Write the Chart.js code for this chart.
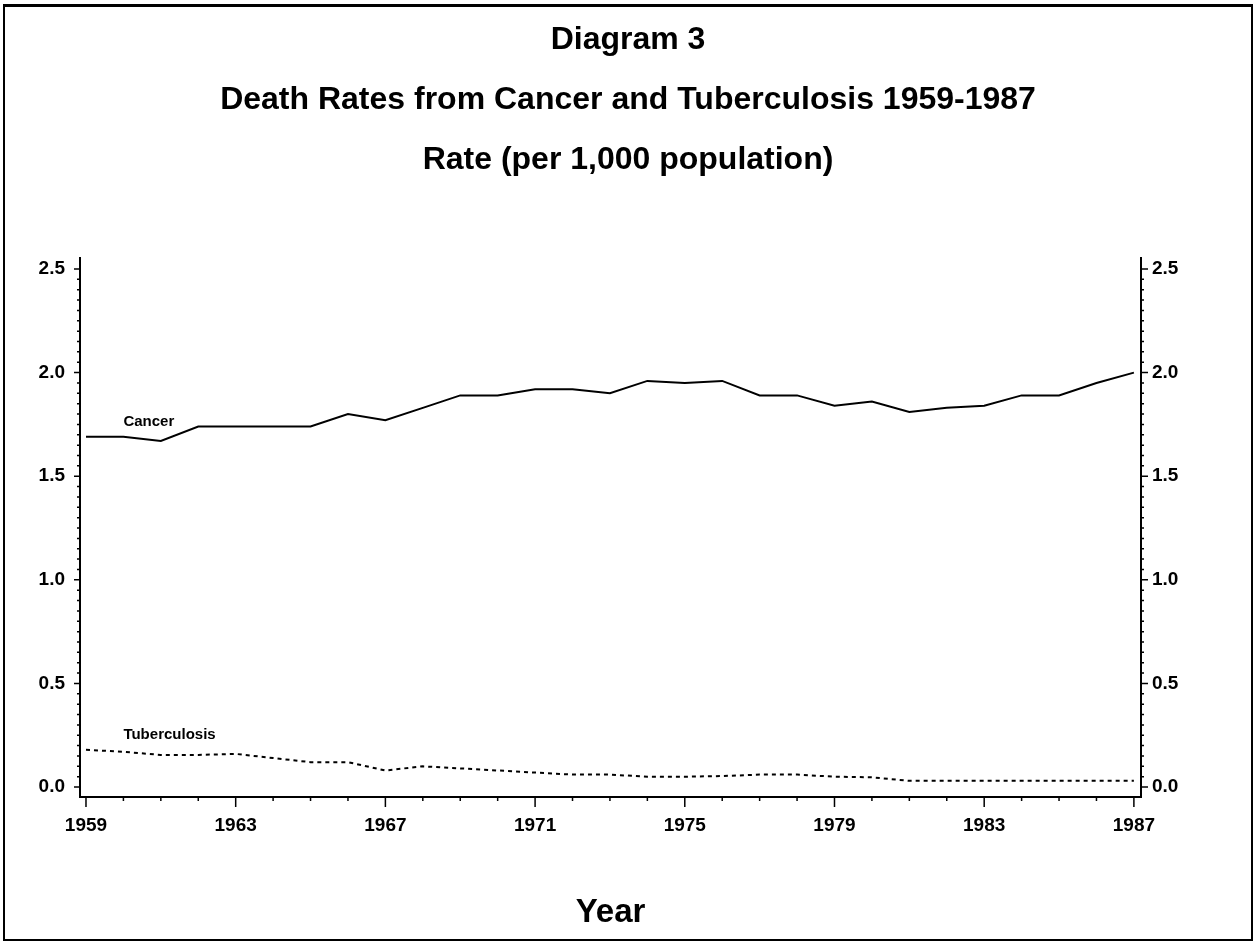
<!DOCTYPE html>
<html>
<head>
<meta charset="utf-8">
<script src="https://cdn.jsdelivr.net/npm/chart.js@4.4.0/dist/chart.umd.min.js"></script>
<style>
  html, body { margin: 0; padding: 0; background: #fff; }
  #wrap { position: relative; width: 1256px; height: 945px; }
  #frame { position: absolute; left: 3px; top: 4px; width: 1250px; height: 937px;
           box-sizing: border-box; border: 2px solid #000; border-top-width: 3px; pointer-events: none; }
</style>
</head>
<body>
<div id="wrap">
  <canvas id="myChart" width="1256" height="945"></canvas>
  <div id="frame"></div>
</div>
<script>
const years = [1959, 1960, 1961, 1962, 1963, 1964, 1965, 1966, 1967, 1968,
               1969, 1970, 1971, 1972, 1973, 1974, 1975, 1976, 1977, 1978,
               1979, 1980, 1981, 1982, 1983, 1984, 1985, 1986, 1987];
const cancer = [1.69, 1.69, 1.67, 1.74, 1.74, 1.74, 1.74, 1.80, 1.77, 1.83,
                1.89, 1.89, 1.92, 1.92, 1.90, 1.96, 1.95, 1.96, 1.89, 1.89,
                1.84, 1.86, 1.81, 1.83, 1.84, 1.89, 1.89, 1.95, 2.00];
const tuberculosis = [0.18, 0.17, 0.155, 0.155, 0.16, 0.14, 0.12, 0.12, 0.08, 0.10,
                      0.09, 0.08, 0.07, 0.06, 0.06, 0.05, 0.05, 0.053, 0.06, 0.06,
                      0.05, 0.047, 0.03, 0.03, 0.03, 0.03, 0.03, 0.03, 0.03];
const xTickLabels = [1959, 1963, 1967, 1971, 1975, 1979, 1983, 1987];
const yTickLabels = [0, 0.5, 1.0, 1.5, 2.0, 2.5];
const titleLines = ['Diagram 3', 'Death Rates from Cancer and Tuberculosis 1959-1987', 'Rate (per 1,000 population)'];
const seriesNames = ['Cancer', 'Tuberculosis'];
const nameYear = 1960;
const nameValues = [1.76, 0.25];

const fam = '"Liberation Sans", Arial, sans-serif';

// tick marks drawn by hand: long on labelled values, short in between
const tickMarks = {
  id: 'tickMarks',
  afterDraw(chart) {
    const ctx = chart.ctx;
    const x = chart.scales.x, yl = chart.scales.y, yr = chart.scales.y2;
    const area = chart.chartArea;
    ctx.save();
    ctx.strokeStyle = '#000';
    ctx.lineWidth = 1.5;
    ctx.beginPath();
    years.forEach(yr0 => {
      const px = x.getPixelForValue(yr0);
      const len = xTickLabels.includes(yr0) ? 10 : 4;
      ctx.moveTo(px, area.bottom);
      ctx.lineTo(px, area.bottom + len);
    });
    for (let i = 0; i <= 50; i++) {
      const v = i * 0.05;
      const major = i % 10 === 0;
      const py = yl.getPixelForValue(v);
      ctx.moveTo(area.left, py);
      ctx.lineTo(area.left - (major ? 6 : 3), py);
      ctx.moveTo(area.right, py);
      ctx.lineTo(area.right + (major ? 7 : 3), py);
    }
    ctx.stroke();

    // series names
    ctx.fillStyle = '#000';
    ctx.font = 'bold 15px ' + fam;
    ctx.textBaseline = 'middle';
    ctx.textAlign = 'left';
    seriesNames.forEach((n, i) => {
      ctx.fillText(n, x.getPixelForValue(nameYear), yl.getPixelForValue(nameValues[i]));
    });
    ctx.restore();
  }
};

const yAxis = (pos, width, pad) => ({
  type: 'linear',
  position: pos,
  min: -0.048,
  max: 2.553,
  afterBuildTicks: s => { s.ticks = yTickLabels.map(v => ({ value: v })); },
  afterFit: s => { s.width = width; },
  grid: { display: false, drawTicks: false },
  border: { display: true, color: '#000', width: 2 },
  ticks: {
    color: '#000',
    padding: pad,
    font: { family: fam, size: 19, weight: 'bold' },
    callback: v => Number(v).toFixed(1)
  }
});

new Chart(document.getElementById('myChart'), {
  type: 'line',
  data: {
    datasets: [
      {
        label: seriesNames[0],
        data: years.map((y, i) => ({ x: y, y: cancer[i] })),
        borderColor: '#000',
        borderWidth: 2,
        pointRadius: 0,
        tension: 0,
        yAxisID: 'y'
      },
      {
        label: seriesNames[1],
        data: years.map((y, i) => ({ x: y, y: tuberculosis[i] })),
        borderColor: '#000',
        borderWidth: 2,
        borderDash: [4, 4],
        pointRadius: 0,
        tension: 0,
        yAxisID: 'y'
      }
    ]
  },
  options: {
    responsive: false,
    animation: false,
    layout: { padding: 0 },
    plugins: {
      legend: { display: false },
      tooltip: { enabled: false },
      title: {
        display: true,
        text: titleLines,
        color: '#000',
        font: { family: fam, size: 32, weight: 'bold', lineHeight: 1.875 },
        padding: { top: 10, bottom: 68 }
      }
    },
    scales: {
      x: {
        type: 'linear',
        position: 'bottom',
        min: 1958.84,
        max: 1987.19,
        afterBuildTicks: s => { s.ticks = xTickLabels.map(v => ({ value: v })); },
        afterFit: s => { s.height = 148; },
        grid: { display: false, drawTicks: false },
        border: { display: true, color: '#000', width: 2 },
        ticks: {
          color: '#000',
          padding: 17,
          maxRotation: 0,
          font: { family: fam, size: 19, weight: 'bold' },
          callback: v => String(v)
        },
        title: {
          display: true,
          text: 'Year',
          color: '#000',
          font: { family: fam, size: 33, weight: 'bold' },
          padding: { top: 0, bottom: 12 }
        }
      },
      y: yAxis('left', 80, 15),
      y2: yAxis('right', 115, 11)
    }
  },
  plugins: [tickMarks]
});
</script>
</body>
</html>
